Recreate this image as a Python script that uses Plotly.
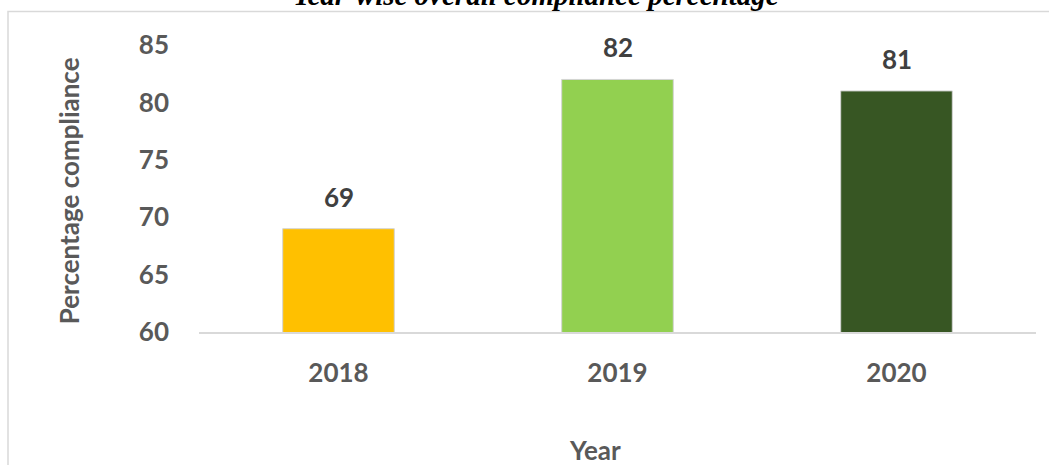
import plotly.graph_objects as go

years = ["2018", "2019", "2020"]
compliance = [69, 82, 81]
bar_colors = ["#FFC000", "#92D050", "#375623"]
y_ticks = [60, 65, 70, 75, 80, 85]
title_text = "Year-wise overall compliance percentage"
x_title = "Year"
y_title = "Percentage compliance"

W, H = 1049, 465
L, R, T, B = 199, 13, 44.5, 133
plot_w = W - L - R
plot_h = H - T - B


def px_to_paper_x(px):
    return (px - L) / plot_w


def px_to_paper_y(py):
    return (H - B - py) / plot_h


font_family = "Lato"
idx = list(range(len(years)))

fig = go.Figure()
fig.add_trace(go.Bar(
    x=idx,
    y=compliance,
    marker=dict(color=bar_colors, line=dict(color="#d4d4d4", width=1)),
    width=0.4,
    customdata=years,
    hovertemplate="%{customdata}: %{y}<extra></extra>",
))

annotations = []
for i, v in zip(idx, compliance):
    annotations.append(dict(
        x=i, y=v, xref="x", yref="y", text=f"<b>{v}</b>", showarrow=False,
        yanchor="bottom", yshift=14,
        font=dict(family=font_family, size=26, color="#404040"),
    ))

# chart title (partially clipped at top as in the reference)
annotations.append(dict(
    x=px_to_paper_x(536), y=px_to_paper_y(12), xref="paper", yref="paper",
    text=f"<b><i>{title_text}</i></b>", showarrow=False,
    xanchor="center", yanchor="bottom",
    font=dict(family="Liberation Serif", size=29, color="#000000"),
))
# y axis title
annotations.append(dict(
    x=px_to_paper_x(69), y=px_to_paper_y(191), xref="paper", yref="paper",
    text=f"<b>{y_title}</b>", showarrow=False, textangle=-90,
    xanchor="center", yanchor="middle",
    font=dict(family=font_family, size=26, color="#595959"),
))
# x axis title
annotations.append(dict(
    x=px_to_paper_x(595), y=px_to_paper_y(450), xref="paper", yref="paper",
    text=f"<b>{x_title}</b>", showarrow=False,
    xanchor="center", yanchor="middle",
    font=dict(family=font_family, size=26, color="#595959"),
))

shapes = [dict(
    type="rect", xref="paper", yref="paper",
    x0=px_to_paper_x(8), x1=px_to_paper_x(1100),
    y0=px_to_paper_y(520), y1=px_to_paper_y(11),
    line=dict(color="#d9d9d9", width=1.5), fillcolor="rgba(0,0,0,0)", layer="below",
)]

fig.update_layout(
    width=W, height=H,
    margin=dict(l=L, r=R, t=T, b=B),
    paper_bgcolor="white", plot_bgcolor="white",
    showlegend=False,
    annotations=annotations,
    shapes=shapes,
    xaxis=dict(
        range=[-0.5, 2.5], tickvals=idx, ticktext=years,
        showline=True, linecolor="#d9d9d9", linewidth=1.5,
        showgrid=False, zeroline=False, ticks="",
        tickfont=dict(family=font_family, size=26, color="#595959", weight="bold"),
        ticklabelstandoff=17,
    ),
    yaxis=dict(
        range=[60, 85], tickvals=y_ticks, ticktext=[str(t) for t in y_ticks],
        showline=False, showgrid=False, zeroline=False, ticks="",
        tickfont=dict(family=font_family, size=26, color="#595959", weight="bold"),
        ticklabelstandoff=29,
    ),
)

fig.write_html("out.html")
